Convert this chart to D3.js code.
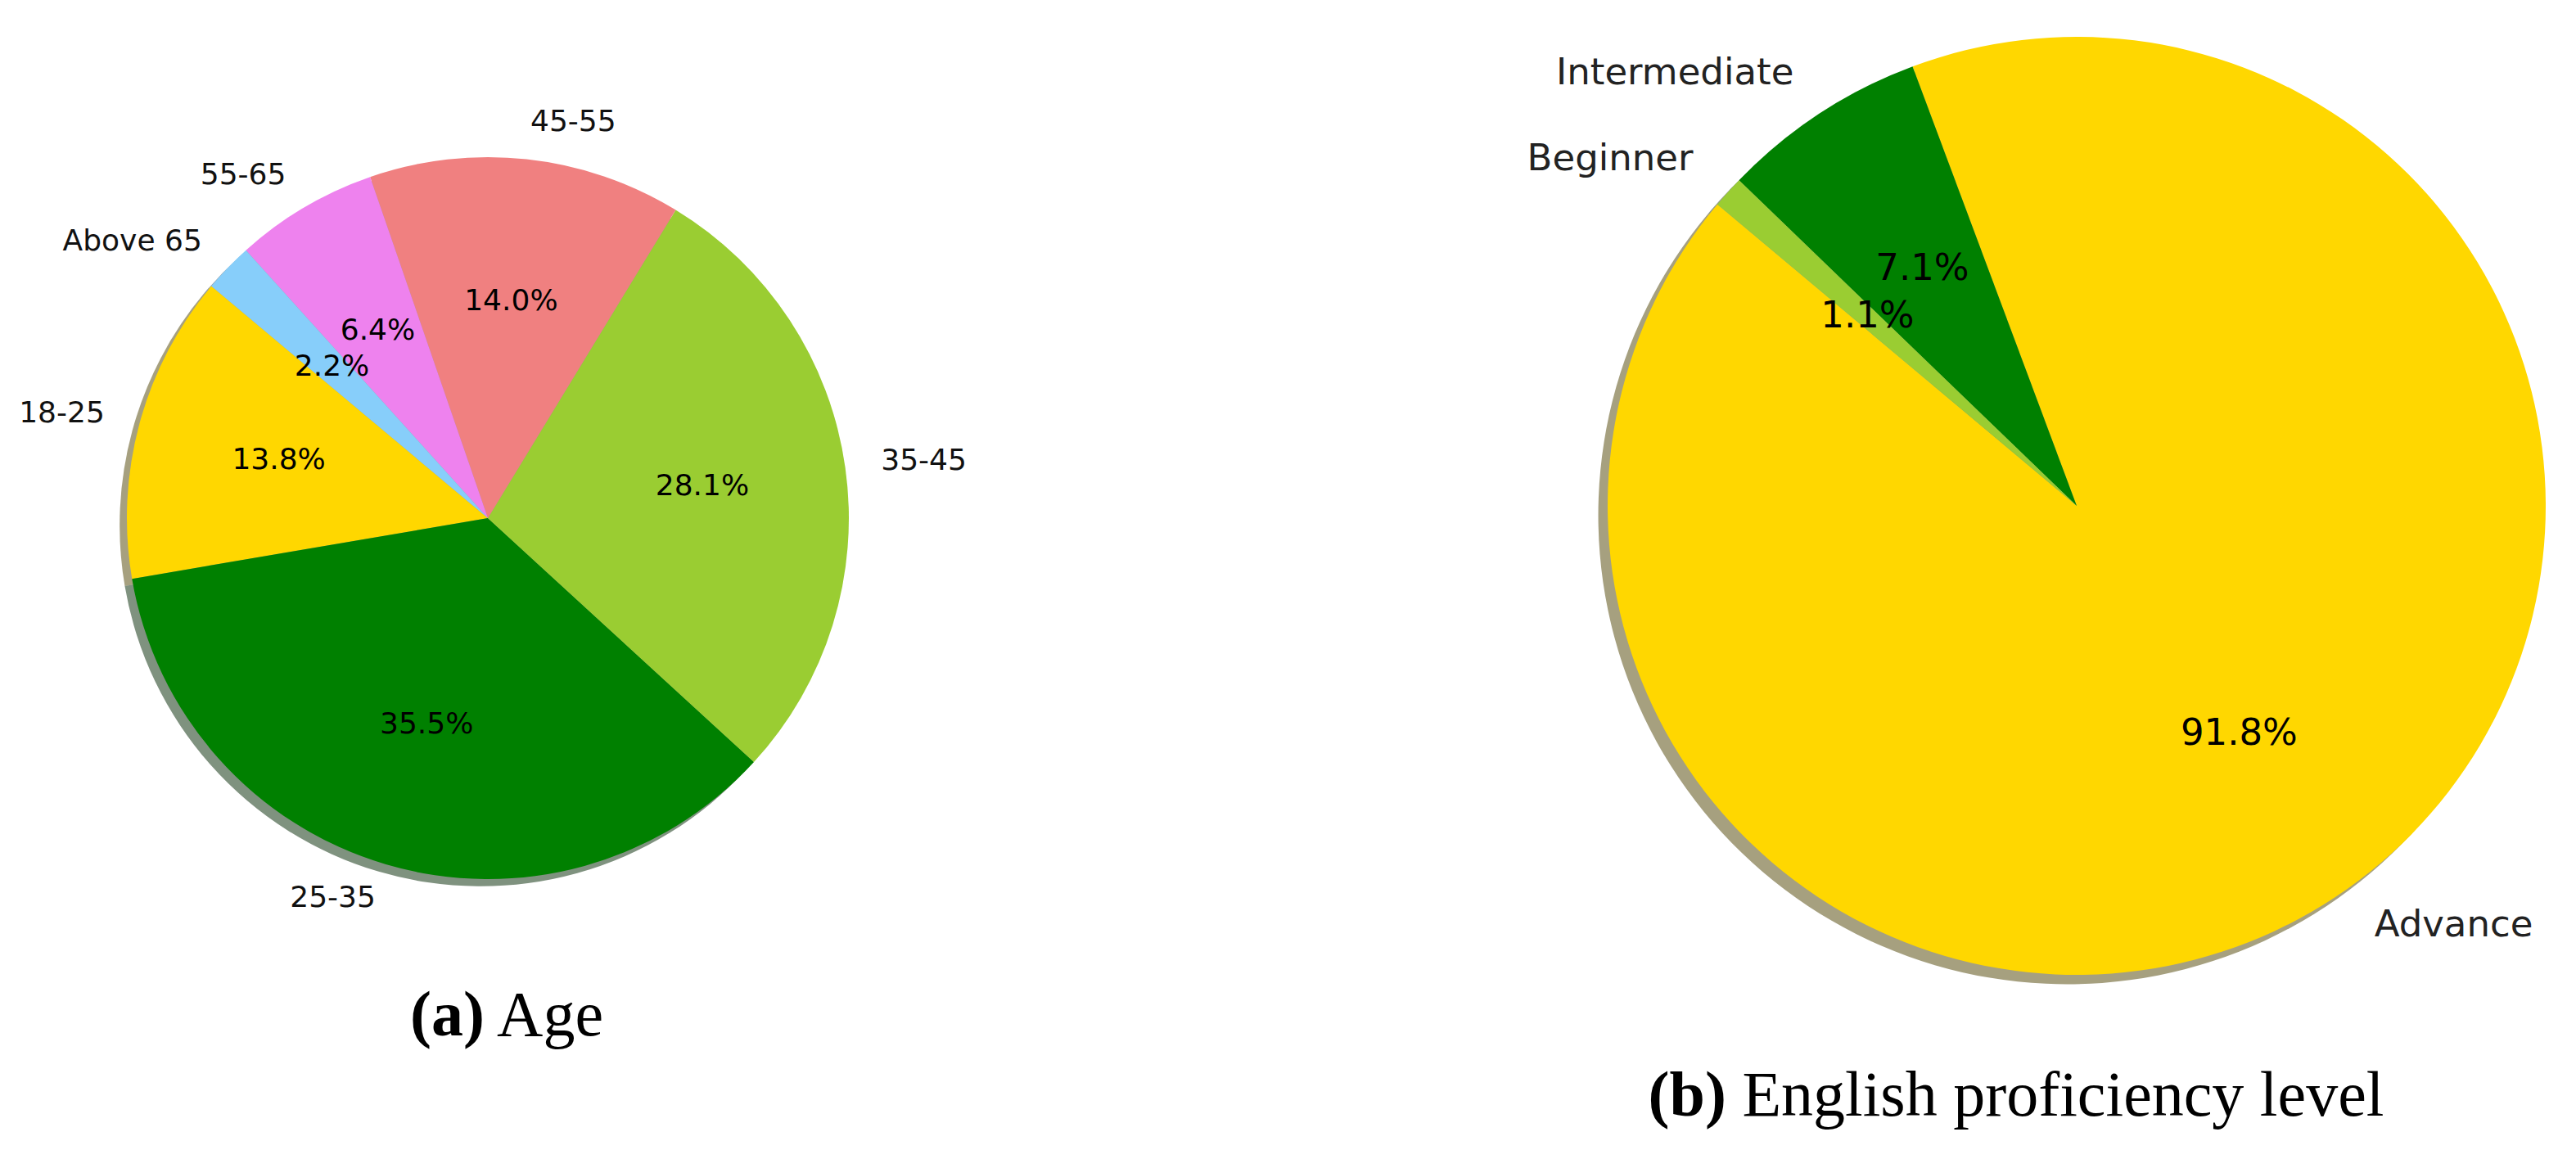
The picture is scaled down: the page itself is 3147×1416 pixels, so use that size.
<!DOCTYPE html>
<html>
<head>
<meta charset="utf-8">
<script src="https://cdn.jsdelivr.net/npm/d3@7"></script>
<style>
  body { margin: 0; background: #fff; }
  svg { display: block; }
</style>
</head>
<body>
<div id="chart"></div>
<script>
// age groups (percent of respondents)
const ageLabels = ['18-25', '25-35', '35-45', '45-55', '55-65', 'Above 65'];
const ageValues = [13.8, 35.5, 28.1, 14.0, 6.4, 2.2];

// english proficiency (percent of respondents)
const englishLabels = ['Advance', 'Intermediate', 'Beginner'];
const englishValues = [91.8, 7.1, 1.1];

const palette = ['#FFD700', '#008000', '#9ACD32', '#F08080', '#EE82EE', '#87CEFA'];
const englishPalette = ['#FFD700', '#008000', '#9ACD32'];

const width = 3147;
const height = 1416;

const svg = d3
  .select('#chart')
  .append('svg')
  .attr('width', width)
  .attr('height', height)
  .attr('viewBox', [0, 0, width, height]);

svg.append('rect').attr('width', width).attr('height', height).attr('fill', '#fff');

const fmtPct = (v) => `${d3.format('.1f')(v)}%`;

// shadow like matplotlib: 0.3 * face colour, alpha 0.5
function shadowColor(c) {
  const rgb = d3.rgb(c);
  return d3.rgb(rgb.r * 0.3, rgb.g * 0.3, rgb.b * 0.3).formatHex();
}

function drawPie({ labels, values, colors, cx, cy, r, fontSize, labelColor, caption, capX, capY }) {
  // matplotlib startangle=140, counterclockwise
  const start = ((90 - 140) * Math.PI) / 180;
  const pie = d3
    .pie()
    .sort(null)
    .value((d) => d)
    .startAngle(start)
    .endAngle(start - 2 * Math.PI);
  const arcs = pie(values);
  const arc = d3.arc().innerRadius(0).outerRadius(r);

  const g = svg.append('g').attr('transform', `translate(${cx},${cy})`);

  const off = 0.02 * r;
  g.append('g')
    .attr('transform', `translate(${-off},${off})`)
    .selectAll('path')
    .data(arcs)
    .join('path')
    .attr('d', arc)
    .attr('fill', (d, i) => shadowColor(colors[i]))
    .attr('fill-opacity', 0.5);

  g.append('g')
    .selectAll('path')
    .data(arcs)
    .join('path')
    .attr('d', arc)
    .attr('fill', (d, i) => colors[i]);

  const mid = (d) => (d.startAngle + d.endAngle) / 2;

  // category labels at 1.1 r
  g.append('g')
    .selectAll('text')
    .data(arcs)
    .join('text')
    .attr('x', (d) => 1.1 * r * Math.sin(mid(d)))
    .attr('y', (d) => -1.1 * r * Math.cos(mid(d)))
    .attr('dy', '0.26em')
    .attr('text-anchor', (d) => (Math.sin(mid(d)) > 0 ? 'start' : 'end'))
    .style('font-family', 'DejaVu Sans')
    .style('font-size', `${fontSize}px`)
    .attr('fill', labelColor)
    .text((d, i) => labels[i]);

  // percentages at 0.6 r
  g.append('g')
    .selectAll('text')
    .data(arcs)
    .join('text')
    .attr('x', (d) => 0.6 * r * Math.sin(mid(d)))
    .attr('y', (d) => -0.6 * r * Math.cos(mid(d)))
    .attr('dy', '0.26em')
    .attr('text-anchor', 'middle')
    .style('font-family', 'DejaVu Sans')
    .style('font-size', `${fontSize}px`)
    .attr('fill', '#000')
    .text((d) => fmtPct(d.data));

  const cap = svg
    .append('text')
    .attr('x', capX)
    .attr('y', capY)
    .attr('text-anchor', 'middle')
    .style('font-family', 'Liberation Serif')
    .style('font-size', '78px')
    .attr('fill', '#000');
  cap.append('tspan').style('font-weight', 'bold').text(caption[0]);
  cap.append('tspan').text(` ${caption[1]}`);
}

drawPie({
  labels: ageLabels,
  values: ageValues,
  colors: palette,
  cx: 596,
  cy: 633,
  r: 441,
  fontSize: 36,
  labelColor: '#111',
  caption: ['(a)', 'Age'],
  capX: 619,
  capY: 1265,
});

drawPie({
  labels: englishLabels,
  values: englishValues,
  colors: englishPalette,
  cx: 2537,
  cy: 618,
  r: 573,
  fontSize: 45,
  labelColor: '#222',
  caption: ['(b)', 'English proficiency level'],
  capX: 2463,
  capY: 1363,
});
</script>
</body>
</html>
